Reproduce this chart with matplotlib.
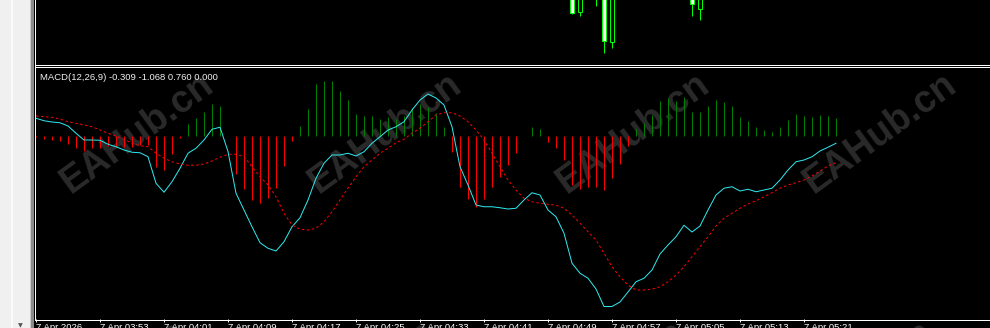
import matplotlib
matplotlib.use("Agg")
import matplotlib.pyplot as plt
from matplotlib.lines import Line2D
from matplotlib.patches import Rectangle

plt.rcParams['font.family'] = ['Liberation Sans', 'DejaVu Sans']

W, H = 990, 328

indicator_label = "MACD(12,26,9) -0.309 -1.068 0.760 0.000"
watermark = "EAHub.cn"

tick_bars = [0, 8, 16, 24, 32, 40, 48, 56, 64, 72, 80, 88, 96]
tick_labels = ["7 Apr 2026", "7 Apr 03:53", "7 Apr 04:01", "7 Apr 04:09",
               "7 Apr 04:17", "7 Apr 04:25", "7 Apr 04:33", "7 Apr 04:41",
               "7 Apr 04:49", "7 Apr 04:57", "7 Apr 05:05", "7 Apr 05:13",
               "7 Apr 05:21"]

# histogram (main - signal), one value per 1-minute bar
macd_hist = [
    -0.06, -0.14, -0.16, -0.20, -0.32, -0.48, -0.60, -0.48, -0.48, -0.40,
    -0.40, -0.44, -0.44, -0.36, -0.36, -1.24, -1.36, -0.72, -0.08, 0.46,
    0.70, 0.94, 1.26, 1.18, -0.02, -1.52, -2.12, -2.56, -2.68, -2.48,
    -2.08, -1.20, -0.20, 0.38, 1.06, 2.08, 2.16, 2.18, 1.78, 1.44,
    0.88, 0.78, 0.78, 0.66, 0.74, 0.66, 0.78, 1.10, 1.26, 1.14,
    0.90, 0.34, -0.64, -2.04, -2.52, -2.84, -2.52, -2.04, -1.64, -1.16,
    -0.68, -0.02, 0.34, 0.26, -0.24, -0.48, -0.96, -1.96, -2.12, -2.04,
    -2.04, -2.16, -1.68, -1.12, -0.40, 0.26, 0.50, 0.82, 1.40, 1.50,
    1.40, 1.54, 0.94, 0.94, 1.18, 1.42, 1.34, 1.18, 0.74, 0.58,
    0.34, 0.22, 0.14, 0.34, 0.62, 0.86, 0.78, 0.74, 0.82, 0.78,
    0.70]

macd_main = [
    0.69, 0.59, 0.54, 0.51, 0.38, 0.09, -0.18, -0.18, -0.19, -0.35,
    -0.45, -0.58, -0.67, -0.69, -0.85, -1.91, -2.27, -1.85, -1.31, -0.71,
    -0.51, -0.18, 0.25, 0.33, -0.64, -2.31, -2.98, -3.65, -4.29, -4.51,
    -4.62, -4.25, -3.65, -3.29, -2.58, -1.71, -1.11, -0.78, -0.78, -0.71,
    -0.82, -0.65, -0.31, -0.05, 0.22, 0.35, 0.55, 1.02, 1.42, 1.66,
    1.50, 1.22, 0.35, -1.25, -1.98, -2.78, -2.85, -2.85, -2.89, -2.94,
    -2.91, -2.58, -2.29, -2.38, -2.98, -3.25, -3.91, -5.11, -5.51, -5.71,
    -6.14, -6.84, -6.84, -6.66, -6.26, -5.85, -5.71, -5.38, -4.74, -4.38,
    -4.05, -3.59, -3.86, -3.62, -2.98, -2.38, -2.11, -2.05, -2.22, -2.15,
    -2.25, -2.18, -2.11, -1.78, -1.38, -1.05, -0.98, -0.85, -0.62, -0.47,
    -0.31]

macd_signal = [
    0.78, 0.75, 0.73, 0.66, 0.55, 0.49, 0.42, 0.35, 0.22, 0.09,
    -0.02, -0.15, -0.31, -0.41, -0.45, -0.71, -0.91, -1.05, -1.14, -1.19,
    -1.19, -1.14, -1.02, -0.87, -0.75, -0.75, -0.85, -1.25, -1.65, -1.98,
    -2.45, -3.11, -3.58, -3.75, -3.78, -3.71, -3.45, -3.05, -2.58, -2.11,
    -1.65, -1.25, -0.98, -0.71, -0.51, -0.29, -0.15, 0.09, 0.29, 0.55,
    0.82, 0.91, 0.91, 0.78, 0.55, 0.22, -0.18, -0.71, -1.25, -1.78,
    -2.18, -2.51, -2.65, -2.71, -2.75, -2.79, -2.91, -3.18, -3.51, -3.85,
    -4.18, -4.71, -5.25, -5.65, -5.98, -6.18, -6.18, -6.15, -6.05, -5.85,
    -5.58, -5.25, -4.85, -4.45, -4.05, -3.62, -3.31, -3.11, -2.91, -2.74,
    -2.61, -2.45, -2.29, -2.11, -1.98, -1.89, -1.78, -1.62, -1.42, -1.22,
    -1.09]

# the few candles whose lower part shows in the price pane
candle_bars = [67, 68, 70, 71, 72, 82, 83]
candle_open = [4659.50, 4656.83, 4658.60, 4659.00, 4653.83, 4658.90, 4657.13]
candle_close = [4656.73, 4659.80, 4659.40, 4653.93, 4659.00, 4657.63, 4659.00]
candle_low = [4656.60, 4656.43, 4657.43, 4652.73, 4653.23, 4656.43, 4656.03]
candle_high = [4660.00, 4660.20, 4660.00, 4659.60, 4659.40, 4659.50, 4659.40]

bars = list(range(len(macd_hist)))


def fx(px):
    return px / W


def fy(py):
    return 1 - py / H


fig = plt.figure(figsize=(W / 100, H / 100), dpi=100, facecolor='black')
PX = 0.72  # one pixel in points

# left grey terminal strip
fig.patches.append(Rectangle((0, 0), fx(34), 1, transform=fig.transFigure,
                             facecolor='#f0f0f0', edgecolor='none', zorder=-3))
fig.patches.append(Rectangle((fx(11), 0), fx(2), 1, transform=fig.transFigure,
                             facecolor='#fafafa', edgecolor='none', zorder=-3))
fig.patches.append(Rectangle((fx(29.5), 0), fx(1.5), 1, transform=fig.transFigure,
                             facecolor='#c8c8c8', edgecolor='none', zorder=-3))
fig.patches.append(Rectangle((fx(31), 0), fx(3), 1, transform=fig.transFigure,
                             facecolor='#8a8a8a', edgecolor='none', zorder=-3))
fig.text(fx(20), fy(325.5), "\u25bc", fontsize=4.5, color='#555555',
         ha='center', va='center', family=['DejaVu Sans'])

# watermarks
for row_y, row_x in [(133, [137, 385, 633, 880]), (381, [109, 359, 609, 857])]:
    for x in row_x:
        fig.text(fx(x), fy(row_y), watermark, rotation=36, rotation_mode='anchor',
                 ha='center', va='center', fontsize=27, fontweight='bold',
                 color='#2a2a2a', zorder=-1)

left_px = 35.0
k_left = (left_px - 36) / 8
k_right = (W - 36) / 8

# price pane
ax_p = fig.add_axes([fx(left_px), fy(65), fx(W - left_px), 65 / H])
ax_p.set_facecolor('none')
ax_p.set_xlim(k_left, k_right)
ax_p.set_ylim(4651.5, 4658.0)
ax_p.axis('off')
for k, o, c, lo, hi in zip(candle_bars, candle_open, candle_close, candle_low, candle_high):
    ax_p.vlines(k, lo, hi, color='#00ff00', linewidth=PX, zorder=2)
    ax_p.add_patch(Rectangle((k - 0.25, min(o, c)), 0.5, abs(c - o),
                             facecolor='white' if c < o else 'black',
                             edgecolor='#00ff00', linewidth=PX, zorder=3))

# MACD pane
ax = fig.add_axes([fx(left_px), fy(319), fx(W - left_px), (319 - 68) / H])
ax.set_facecolor('none')
ax.set_xlim(k_left, k_right)
ax.set_ylim(-7.34, 2.70)
for s in ax.spines.values():
    s.set_visible(False)
ax.set_yticks([])

hist_colors = ['#008000' if v > 0 else '#ff0000' for v in macd_hist]
ax.vlines(bars, 0, macd_hist, colors=hist_colors, linewidth=PX, zorder=2)
ax.plot(bars, macd_main, color='#2ee8ee', linewidth=PX, zorder=3)
ax.plot(bars, macd_signal, color='#ff0000', linewidth=PX,
        linestyle=(0, (2.5, 2.5)), zorder=3)

ax.set_xticks(tick_bars, tick_labels)
ax.tick_params(axis='x', colors='white', length=3 * PX, width=PX, pad=1,
               labelsize=6.8, direction='out')
for lbl in ax.get_xticklabels():
    lbl.set_ha('left')

fig.text(fx(40), fy(80), indicator_label, fontsize=6.8, color='#f0f0f0',
         ha='left', va='baseline')

# white frame lines
for (x0, y0, x1, y1) in [(34.5, 0, 34.5, 319.5), (34.5, 65.2, W, 65.2),
                         (34.5, 67.2, W, 67.2), (34.5, 319.5, W, 319.5)]:
    fig.add_artist(Line2D([fx(x0), fx(x1)], [fy(y0), fy(y1)], transform=fig.transFigure,
                          color='white', linewidth=PX, zorder=5))

fig.savefig('out.png', dpi=100, facecolor='black')
